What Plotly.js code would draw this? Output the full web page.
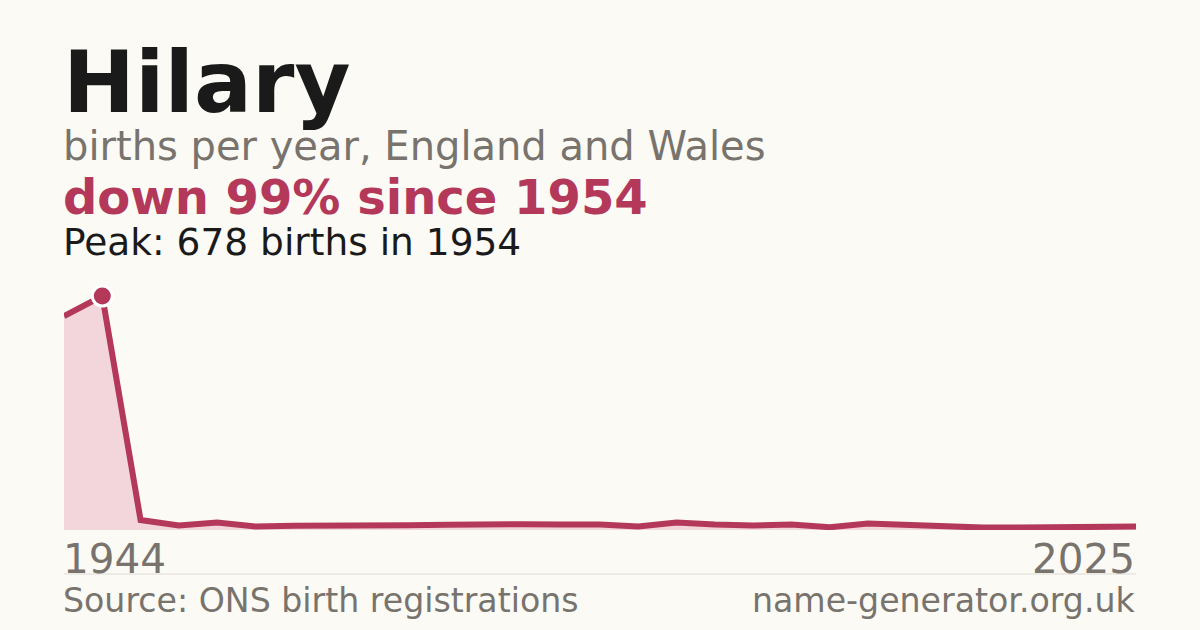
<!DOCTYPE html>
<html>
<head>
<meta charset="utf-8">
<script src="https://cdn.plot.ly/plotly-3.0.1.min.js"></script>
<style>
html,body{margin:0;padding:0;background:#fbfaf5;}
#chart{width:1200px;height:630px;}
</style>
</head>
<body>
<div id="chart"></div>
<script>
// Data
const years = ["1944","1954","1964","1974","1984","1994","2003","2004","2005","2006","2007","2008","2009","2010","2011","2012","2013","2014","2015","2016","2017","2018","2019","2020","2021","2022","2023","2024","2025"];
const births = [620,678,29,13,22,10,12,14,15,14,15,17,17,16,16,10,22,16,13,16,8,19,15,7,7,7,7,8,10];
const peakYear = "1954";
const peakValue = 678;

const nameTitle = "Hilary";
const subtitle = "births per year, England and Wales";
const headline = "down 99% since 1954";
const peakText = "Peak: 678 births in 1954";
const firstLabel = "1944";
const lastLabel = "2025";
const sourceText = "Source: ONS birth registrations";
const siteText = "name-generator.org.uk";

const RED = "#b3385a";
const FONT = "DejaVu Sans, Verdana, sans-serif";

const traces = [
  {
    x: years, y: births, type: "scatter", mode: "lines",
    line: {color: RED, width: 6, shape: "linear"},
    fill: "tozeroy", fillcolor: "#f2d6dc",
    hoverinfo: "skip"
  },
  {
    x: [peakYear], y: [peakValue], type: "scatter", mode: "markers",
    marker: {size: 20, color: RED, line: {color: "#ffffff", width: 3}},
    cliponaxis: false, hoverinfo: "skip"
  }
];

function ann(text, x, y, xanchor, size, color, bold) {
  return {
    text: bold ? "<b>" + text + "</b>" : text,
    x: x, y: y, xref: "paper", yref: "paper",
    xanchor: xanchor, yanchor: "top", showarrow: false,
    xshift: xanchor === "left" ? -2 : 0,
    borderpad: 0, align: xanchor,
    font: {family: FONT, size: size, color: color}
  };
}

const layout = {
  width: 1200, height: 630,
  paper_bgcolor: "#fbfaf5", plot_bgcolor: "#fbfaf5",
  margin: {l: 64, r: 64, t: 296, b: 100, pad: 0},
  showlegend: false,
  hovermode: false,
  xaxis: {type: "category", range: [0, years.length - 1], visible: false, fixedrange: true},
  yaxis: {range: [0, peakValue], visible: false, fixedrange: true},
  annotations: [
    ann(nameTitle, 0, 2.131, "left", 86, "#1a1a1a", true),
    ann(subtitle, 0, 1.745, "left", 40, "#78736d", false),
    ann(headline, 0, 1.545, "left", 48, "#b3385a", true),
    ann(peakText, 0, 1.329, "left", 37.5, "#1a1a1a", false),
    ann(firstLabel, 0, -0.017, "left", 40.5, "#78736d", false),
    ann(lastLabel, 1, -0.017, "right", 40.5, "#78736d", false),
    ann(sourceText, 0, -0.212, "left", 33.2, "#78736d", false),
    ann(siteText, 1, -0.212, "right", 33.2, "#78736d", false)
  ],
  shapes: [
    {type: "line", xref: "paper", yref: "paper", x0: 0, x1: 1, y0: -0.188, y1: -0.188,
     line: {color: "#dedad3", width: 1}}
  ]
};

Plotly.newPlot("chart", traces, layout, {staticPlot: true, displayModeBar: false});
</script>
</body>
</html>
